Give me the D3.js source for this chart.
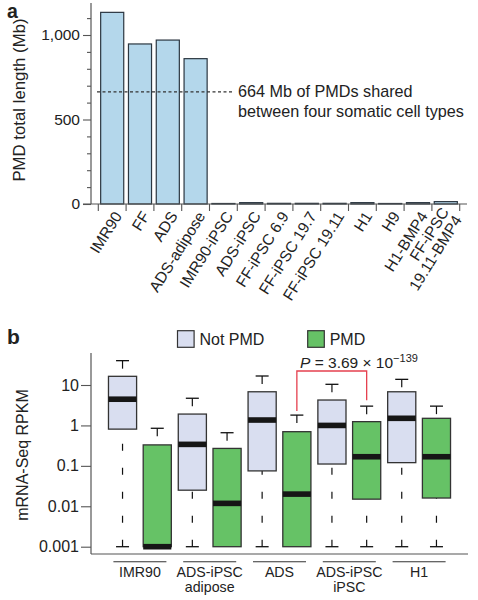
<!DOCTYPE html>
<html>
<head>
<meta charset="utf-8">
<script src="https://cdn.jsdelivr.net/npm/d3@7"></script>
<style>
  html, body { margin: 0; padding: 0; background: #fff; }
  svg { display: block; font-family: "Liberation Sans", Arial, Helvetica, sans-serif; }
</style>
</head>
<body>
<svg id="chart" width="478" height="600"></svg>
<script>
// ---------- Panel a data ----------
const catsA = ["IMR90", "FF", "ADS", "ADS-adipose", "IMR90-iPSC", "ADS-iPSC", "FF-iPSC 6.9",
  "FF-iPSC 19.7", "FF-iPSC 19.11", "H1", "H9", "H1-BMP4", "FF-iPSC\n19.11-BMP4"];
const pmdLength = [1134, 947, 970, 860, 3, 8, 4, 4, 4, 8, 3, 8, 14];
const sharedPMD = 664;
const majorTicksA = [0, 500, 1000];
const minorTicksA = [100, 200, 300, 400, 600, 700, 800, 900, 1100];
const annotationLines = ["664 Mb of PMDs shared", "between four somatic cell types"];

// ---------- Panel b data ----------
const groupsB = ["IMR90", "ADS-iPSC\nadipose", "ADS", "ADS-iPSC\niPSC", "H1"];
const seriesB = ["Not PMD", "PMD"];
// Not PMD box stats
const notPmdHigh = [40, 4.7, 16.7, 10.4, 13.8];
const notPmdQ3 = [16.4, 1.91, 6.8, 4.25, 6.8];
const notPmdMed = [4.45, 0.34, 1.36, 1.0, 1.5];
const notPmdQ1 = [0.81, 0.025, 0.075, 0.111, 0.12];
const notPmdLow = [0.001, 0.001, 0.001, 0.001, 0.001];
// PMD box stats
const pmdHigh = [0.85, 0.66, 1.8, 3.0, 3.0];
const pmdQ3 = [0.33, 0.27, 0.70, 1.24, 1.5];
const pmdMed = [0.001, 0.0118, 0.020, 0.168, 0.168];
const pmdQ1 = [0.001, 0.001, 0.001, 0.015, 0.016];
const pmdLow = [0.001, 0.001, 0.001, 0.001, 0.001];
const tickValuesB = [10, 1, 0.1, 0.01, 0.001];
const tickLabelsB = ["10", "1", "0.1", "0.01", "0.001"];

const svg = d3.select("#chart");
const ink = "#222";

// =============== PANEL A ===============
const gA = svg.append("g");
const xA = d3.scaleBand().domain(catsA).range([98.3, 459.7]).paddingInner(0.17).paddingOuter(0.085);
const yA = d3.scaleLinear().domain([0, 1000]).range([204, 35]);

gA.append("text").attr("x", 7).attr("y", 17.5).attr("font-size", 19.5).attr("font-weight", "bold")
  .attr("fill", ink).text("a");

// bars
gA.selectAll("rect.bar").data(catsA).join("rect")
  .attr("class", "bar")
  .attr("x", d => xA(d))
  .attr("width", xA.bandwidth())
  .attr("y", (d, i) => yA(pmdLength[i]))
  .attr("height", (d, i) => yA(0) - yA(pmdLength[i]))
  .attr("fill", "#b4d7eb").attr("stroke", "#2b3640").attr("stroke-width", 1.2);

// y axis: major + minor ticks
const axMajor = gA.append("g").attr("transform", "translate(91,0)")
  .call(d3.axisLeft(yA).tickValues(majorTicksA).tickSize(8).tickPadding(3).tickFormat(d3.format(",")));
const axMinor = gA.append("g").attr("transform", "translate(91,0)")
  .call(d3.axisLeft(yA).tickValues(minorTicksA).tickSize(4).tickFormat(""));
[axMajor, axMinor].forEach(a => {
  a.select(".domain").remove();
  a.selectAll("line").attr("stroke", "#555").attr("stroke-width", 1.1);
  a.selectAll("text").attr("font-size", 15.5).attr("fill", ink).attr("font-family", "Liberation Sans, Arial, sans-serif");
});
gA.append("line").attr("x1", 91).attr("x2", 91).attr("y1", yA(1190)).attr("y2", yA(0))
  .attr("stroke", "#555").attr("stroke-width", 1.2);
// x axis line
gA.append("line").attr("x1", 83).attr("x2", 467).attr("y1", yA(0)).attr("y2", yA(0))
  .attr("stroke", "#555").attr("stroke-width", 1.2);
// x ticks at band boundaries
const stepA = xA.step();
const boundaries = catsA.map(d => xA(d) - (stepA - xA.bandwidth()) / 2);
boundaries.push(xA(catsA[catsA.length - 1]) + xA.bandwidth() + (stepA - xA.bandwidth()) / 2);
gA.selectAll("line.xt").data(boundaries).join("line").attr("class", "xt")
  .attr("x1", d => d).attr("x2", d => d).attr("y1", yA(0)).attr("y2", yA(0) + 7)
  .attr("stroke", "#555").attr("stroke-width", 1.1);

// rotated x labels
const lblA = gA.selectAll("text.xl").data(catsA).join("text").attr("class", "xl")
  .attr("transform", d => `translate(${xA(d) + xA.bandwidth() / 2 + 9},${yA(0) + 11}) rotate(-58)`)
  .attr("text-anchor", "end").attr("font-size", 15.5).attr("fill", ink);
lblA.each(function(d) {
  const parts = d.split("\n");
  const t = d3.select(this);
  parts.forEach((p, i) => {
    t.append("tspan").attr("x", 0)
      .attr("dy", parts.length === 1 ? "0.1em" : (i === 0 ? "-0.4em" : "0.98em"))
      .text(p);
  });
});

// dashed shared line
gA.append("line").attr("x1", 97).attr("x2", 233).attr("y1", yA(sharedPMD)).attr("y2", yA(sharedPMD))
  .attr("stroke", "#333").attr("stroke-width", 1.2).attr("stroke-dasharray", "3,2.5");
gA.selectAll("text.ann").data(annotationLines).join("text").attr("class", "ann")
  .attr("x", 238).attr("y", (d, i) => 97 + i * 19.5)
  .attr("font-size", 16.2).attr("fill", ink).text(d => d);

// y label
gA.append("text").attr("transform", "translate(25,100) rotate(-90)")
  .attr("text-anchor", "middle").attr("font-size", 16.8).attr("fill", ink)
  .text("PMD total length (Mb)");

// =============== PANEL B ===============
const gB = svg.append("g");
gB.append("text").attr("x", 7).attr("y", 344).attr("font-size", 21).attr("font-weight", "bold")
  .attr("fill", ink).text("b");

const xB = d3.scaleBand().domain(groupsB).range([105, 454]);
const xSub = d3.scaleBand().domain(seriesB).range([0, xB.bandwidth()]).paddingInner(0.19).paddingOuter(0.1);
const yB = d3.scaleLog().domain([0.001, 10]).range([546.7, 385]);

const colors = { "Not PMD": "#d9def0", "PMD": "#66c266" };
const stats = {
  "Not PMD": { hi: notPmdHigh, q3: notPmdQ3, med: notPmdMed, q1: notPmdQ1, lo: notPmdLow },
  "PMD": { hi: pmdHigh, q3: pmdQ3, med: pmdMed, q1: pmdQ1, lo: pmdLow }
};

// axes
const axB = gB.append("g").attr("transform", "translate(91,0)")
  .call(d3.axisLeft(yB).tickValues(tickValuesB).tickSize(10).tickPadding(2)
    .tickFormat((d, i) => tickLabelsB[i]));
axB.select(".domain").remove();
axB.selectAll("line").attr("stroke", "#555").attr("stroke-width", 1.1);
axB.selectAll("text").attr("font-size", 16).attr("fill", ink).attr("font-family", "Liberation Sans, Arial, sans-serif");
gB.append("line").attr("x1", 91).attr("x2", 91).attr("y1", 353).attr("y2", 554)
  .attr("stroke", "#555").attr("stroke-width", 1.2);
gB.append("line").attr("x1", 91).attr("x2", 468).attr("y1", 554).attr("y2", 554)
  .attr("stroke", "#555").attr("stroke-width", 1.2);

// boxes
const capW = 13;
groupsB.forEach((g, gi) => {
  seriesB.forEach(s => {
    const st = stats[s];
    const x0 = xB(g) + xSub(s), w = xSub.bandwidth(), cx = x0 + w / 2;
    const hi = st.hi[gi], q3 = st.q3[gi], med = st.med[gi], q1 = st.q1[gi], lo = st.lo[gi];
    const box = gB.append("g");
    // upper whisker (drawn from cap toward box)
    box.append("line").attr("x1", cx).attr("x2", cx).attr("y1", yB(hi)).attr("y2", yB(q3))
      .attr("stroke", "#111").attr("stroke-width", 1.2).attr("stroke-dasharray", "8,16");
    box.append("line").attr("x1", cx - capW / 2).attr("x2", cx + capW / 2).attr("y1", yB(hi)).attr("y2", yB(hi))
      .attr("stroke", "#111").attr("stroke-width", 1.3);
    // lower whisker
    if (yB(lo) - yB(q1) > 1) {
      box.append("line").attr("x1", cx).attr("x2", cx).attr("y1", yB(lo)).attr("y2", yB(q1))
        .attr("stroke", "#111").attr("stroke-width", 1.2).attr("stroke-dasharray", "7,17");
      box.append("line").attr("x1", cx - capW / 2).attr("x2", cx + capW / 2).attr("y1", yB(lo)).attr("y2", yB(lo))
        .attr("stroke", "#111").attr("stroke-width", 1.3);
    }
    box.append("rect").attr("x", x0).attr("width", w).attr("y", yB(q3)).attr("height", yB(q1) - yB(q3))
      .attr("fill", colors[s]).attr("stroke", "#333").attr("stroke-width", 1.3);
    box.append("rect").attr("x", x0).attr("width", w).attr("y", yB(med) - 2.8).attr("height", 5.6)
      .attr("fill", "#161616");
  });
  // group underline + label
  const gc = xB(g) + xB.bandwidth() / 2;
  gB.append("line").attr("x1", gc - 26.5).attr("x2", gc + 26.5).attr("y1", 561.7).attr("y2", 561.7)
    .attr("stroke", "#333").attr("stroke-width", 1.1);
  const t = gB.append("text").attr("text-anchor", "middle").attr("font-size", 14.2).attr("fill", ink);
  g.split("\n").forEach((p, i) => {
    t.append("tspan").attr("x", gc).attr("y", 576.5 + i * 15.5).text(p);
  });
});

// y label
gB.append("text").attr("transform", "translate(28,455) rotate(-90)")
  .attr("text-anchor", "middle").attr("font-size", 16).attr("fill", ink)
  .text("mRNA-Seq RPKM");

// legend
const legend = gB.selectAll("g.leg").data(seriesB).join("g").attr("class", "leg")
  .attr("transform", (d, i) => `translate(${i === 0 ? 177.5 : 307.7},330.7)`);
legend.append("rect").attr("width", 16.6).attr("height", 16.6)
  .attr("fill", d => colors[d]).attr("stroke", "#333").attr("stroke-width", 1.2);
legend.append("text").attr("x", 22).attr("y", 14.5).attr("font-size", 16).attr("fill", ink).text(d => d);

// significance bracket between ADS PMD and ADS-iPSC iPSC PMD
const bx1 = xB(groupsB[2]) + xSub("PMD") + xSub.bandwidth() / 2;
const bx2 = xB(groupsB[3]) + xSub("PMD") + xSub.bandwidth() / 2;
const byTop = 371;
gB.append("path")
  .attr("d", `M${bx1},${yB(pmdHigh[2]) - 4}V${byTop}H${bx2}V${yB(pmdHigh[3]) - 6}`)
  .attr("fill", "none").attr("stroke", "#e5404f").attr("stroke-width", 1.3);
const pt = gB.append("text").attr("x", 300).attr("y", 367.7).attr("font-size", 15.5).attr("fill", ink);
pt.append("tspan").attr("font-style", "italic").text("P");
pt.append("tspan").text(" = 3.69 \u00d7 10");
pt.append("tspan").attr("font-size", 11).attr("dy", -6).text("\u2212139");
</script>
</body>
</html>
